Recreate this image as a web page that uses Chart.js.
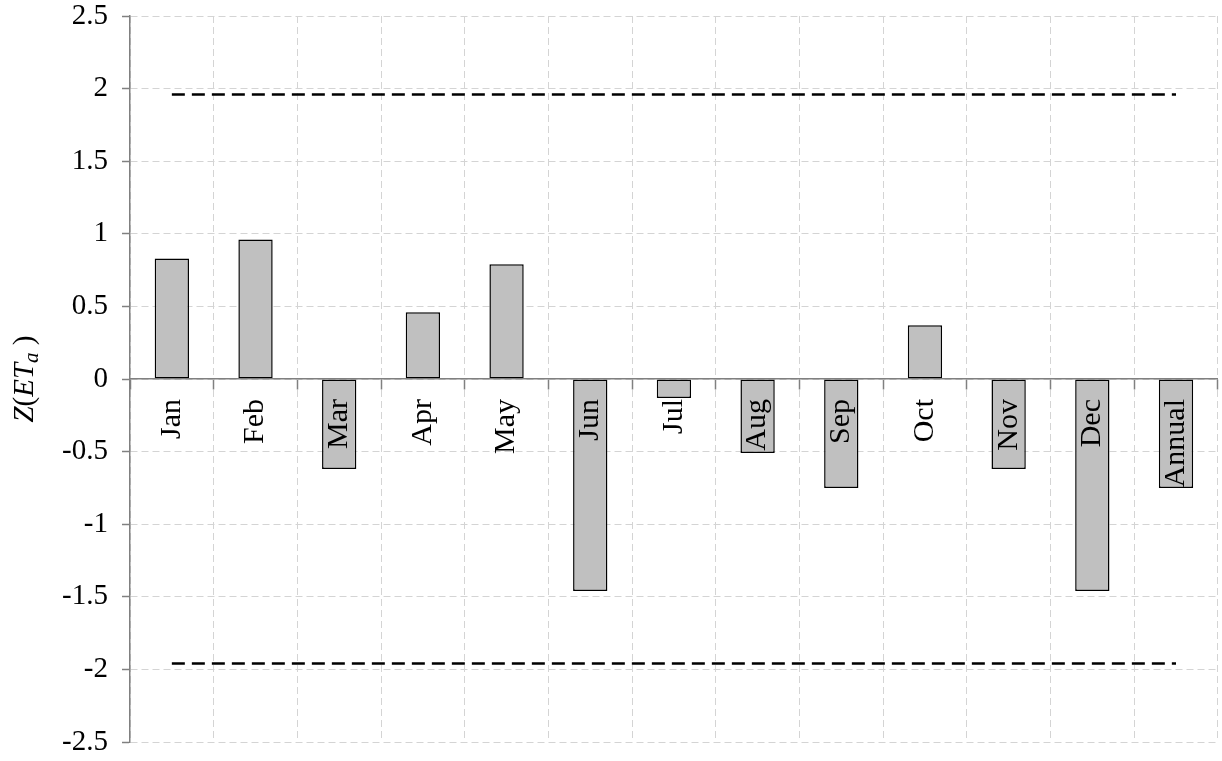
<!DOCTYPE html>
<html>
<head>
<meta charset="utf-8">
<script src="https://cdn.jsdelivr.net/npm/chart.js@4"></script>
<style>
  html, body { margin: 0; padding: 0; background: #fff; }
</style>
</head>
<body>
<canvas id="chart" width="1222" height="761"></canvas>
<script>
// --- datos ---
const months = ['Jan', 'Feb', 'Mar', 'Apr', 'May', 'Jun', 'Jul', 'Aug', 'Sep', 'Oct', 'Nov', 'Dec', 'Annual'];
const zValues = [0.83, 0.96, -0.62, 0.46, 0.79, -1.46, -0.13, -0.51, -0.75, 0.37, -0.62, -1.46, -0.75];
const upperLimit = [1.96, 1.96, 1.96, 1.96, 1.96, 1.96, 1.96, 1.96, 1.96, 1.96, 1.96, 1.96, 1.96];
const lowerLimit = [-1.96, -1.96, -1.96, -1.96, -1.96, -1.96, -1.96, -1.96, -1.96, -1.96, -1.96, -1.96, -1.96];
const yTicks = [-2.5, -2, -1.5, -1, -0.5, 0, 0.5, 1, 1.5, 2, 2.5];

const FONT = '"Liberation Serif", "Times New Roman", serif';
const AXIS = '#808080';
const GRID = '#d4d4d4';

// titulo del eje Y: Z(ET_a) con subindice
const yTitle = {
  id: 'yTitle',
  afterDraw(chart) {
    const { ctx, chartArea } = chart;
    const parts = [
      { t: 'Z', f: 'italic 29px ' + FONT, dy: 0 },
      { t: '(', f: '29px ' + FONT, dy: 0 },
      { t: 'ET', f: 'italic 29px ' + FONT, dy: 0 },
      { t: 'a', f: 'italic 21px ' + FONT, dy: 5 },
      { t: ' )', f: '29px ' + FONT, dy: 0 }
    ];
    ctx.save();
    ctx.fillStyle = '#000';
    ctx.textBaseline = 'alphabetic';
    let total = 0;
    parts.forEach(p => { ctx.font = p.f; p.w = ctx.measureText(p.t).width; total += p.w; });
    ctx.translate(33, (chartArea.top + chartArea.bottom) / 2);
    ctx.rotate(-Math.PI / 2);
    let x = -total / 2;
    parts.forEach(p => {
      ctx.font = p.f;
      ctx.fillText(p.t, x, p.dy);
      x += p.w;
    });
    ctx.restore();
  }
};

new Chart(document.getElementById('chart'), {
  type: 'bar',
  data: {
    labels: months,
    datasets: [
      {
        type: 'line',
        data: upperLimit,
        borderColor: '#000',
        borderWidth: 2.5,
        borderDash: [13, 7],
        pointRadius: 0,
        fill: false
      },
      {
        type: 'line',
        data: lowerLimit,
        borderColor: '#000',
        borderWidth: 2.5,
        borderDash: [13, 7],
        pointRadius: 0,
        fill: false
      },
      {
        data: zValues,
        backgroundColor: '#c0c0c0',
        borderColor: '#000',
        borderWidth: 1.5,
        borderSkipped: false,
        barPercentage: 0.41,
        categoryPercentage: 1
      }
    ]
  },
  options: {
    responsive: false,
    animation: false,
    layout: { padding: { top: 16, bottom: 19, left: 0, right: 0 } },
    plugins: {
      legend: { display: false },
      tooltip: { enabled: false }
    },
    scales: {
      x: {
        position: { y: 0 },
        offset: true,
        grid: {
          offset: true,
          color: GRID,
          lineWidth: 1,
          tickColor: AXIS,
          tickLength: 10,
          tickWidth: 1.5,
          tickBorderDash: []
        },
        border: { color: AXIS, width: 1.5, dash: [7, 4], z: 1 },
        ticks: {
          z: 1,
          autoSkip: false,
          minRotation: 90,
          maxRotation: 90,
          padding: 10,
          color: '#000',
          font: { family: FONT, size: 30 }
        }
      },
      y: {
        min: -2.5,
        max: 2.5,
        afterBuildTicks: s => { s.ticks = yTicks.map(v => ({ value: v })); },
        afterFit: s => {
          s.width = 130;
          s.paddingTop = 0;
          s.paddingBottom = 0;
        },
        grid: {
          color: GRID,
          lineWidth: 1,
          tickColor: AXIS,
          tickLength: 8,
          tickWidth: 1.5,
          tickBorderDash: []
        },
        border: { color: AXIS, width: 1.5, dash: [7, 4] },
        ticks: {
          padding: 14,
          color: '#000',
          font: { family: FONT, size: 29 },
          callback: v => String(v)
        }
      }
    }
  },
  plugins: [yTitle]
});
</script>
</body>
</html>
